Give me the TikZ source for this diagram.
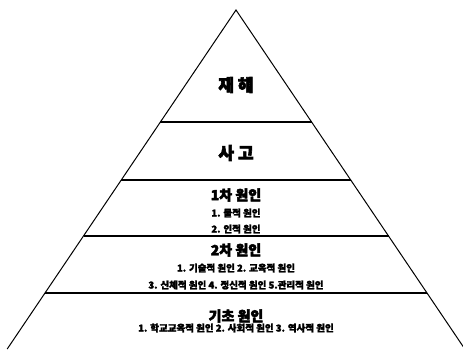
\documentclass[tikz,border=0pt]{standalone}
\usepackage{fontspec}
\newfontfamily\krtitle{Noto Sans CJK KR Black}[FakeBold=3.5]
\newfontfamily\krsmall{Noto Sans CJK KR Black}[FakeBold=2]
\begin{document}
\begin{tikzpicture}[x=1pt,y=-1pt,
  edge/.style={line width=1pt,black},
  sep/.style={line width=1.2pt,black},
  big/.style={font=\krtitle\fontsize{17}{17}\selectfont,inner sep=0pt},
  mid/.style={font=\krtitle\fontsize{14}{14}\selectfont,inner sep=0pt},
  small/.style={font=\krsmall\fontsize{9.5}{9.5}\selectfont,inner sep=0pt}]
\useasboundingbox (0,0) rectangle (463,349);
\fill[white] (0,0) rectangle (463,349);
\coordinate (apex) at (236,10);
\coordinate (bl) at (7.2,349);
\coordinate (br) at (464.8,349);
\draw[edge] (bl) -- (apex) -- (br);
\coordinate (l1) at (160.4,122); \coordinate (r1) at (311.6,122);
\coordinate (l2) at (121.3,180); \coordinate (r2) at (350.7,180);
\coordinate (l3) at (83.5,236);  \coordinate (r3) at (388.5,236);
\coordinate (l4) at (45,293);    \coordinate (r4) at (427,293);
\draw[sep] (l1) -- (r1);
\draw[sep] (l2) -- (r2);
\draw[sep] (l3) -- (r3);
\draw[sep] (l4) -- (r4);
\node[big] (t1) at (236,85) {재 해};
\node[big] (t2) at (236,153) {사 고};
\node[mid] (t3) at (236,195) {1차 원인};
\node[small] (t3a) at (236,213) {1. 물적 원인};
\node[small] (t3b) at (236,229) {2. 인적 원인};
\node[mid] (t4) at (236,250) {2차 원인};
\node[small] (t4a) at (236,268) {1. 기술적 원인 2. 교육적 원인};
\node[small] (t4b) at (236,285) {3. 신체적 원인 4. 정신적 원인 5.관리적 원인};
\node[mid] (t5) at (236,316) {기초 원인};
\node[small] (t5a) at (236,328) {1. 학교교육적 원인 2. 사회적 원인 3. 역사적 원인};
\end{tikzpicture}
\end{document}
